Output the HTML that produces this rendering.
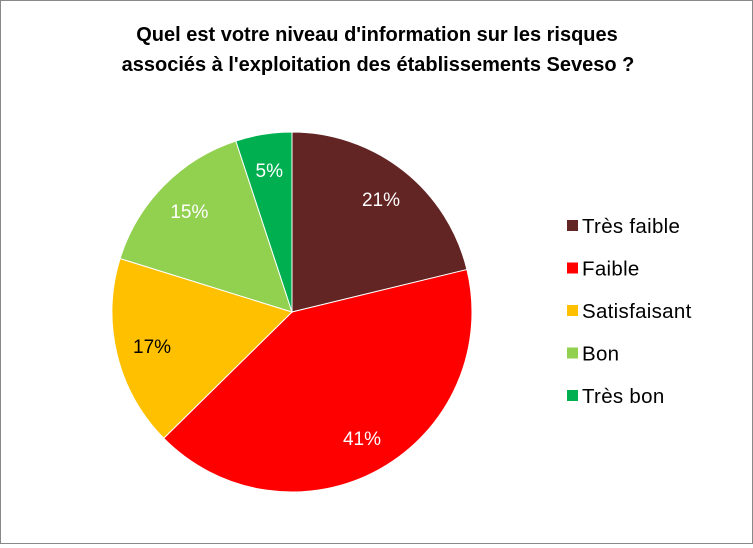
<!DOCTYPE html>
<html><head><meta charset="utf-8"><style>
body{margin:0;background:#fff}
#c{position:relative;width:751px;height:542px;border:1px solid #888;background:#fff;font-family:"Liberation Sans",Arial,sans-serif}
</style></head><body>
<div id="c">
<svg id="s" width="751" height="542">
<text x="376" y="40" text-anchor="middle" font-size="20" font-weight="bold">Quel est votre niveau d'information sur les risques</text>
<text x="377" y="70" text-anchor="middle" font-size="20" font-weight="bold">associés à l'exploitation des établissements Seveso ?</text>
<g id="slices"></g><g id="labels"></g><g id="legend"></g>
</svg></div>
<script>
const categories=["Très faible","Faible","Satisfaisant","Bon","Très bon"];
const values=[21,41,17,15,5];
const colors=["#632523","#FF0000","#FFC000","#92D050","#00B050"];
const labelColors=["#fff","#fff","#000","#fff","#fff"];
const NS="http://www.w3.org/2000/svg";
const cx=291,cy=311,r=180;
const total=values.reduce((a,b)=>a+b,0);
const sl=document.getElementById('slices'),lb=document.getElementById('labels'),lg=document.getElementById('legend');
function pt(a,rr){return [cx+rr*Math.sin(a),cy-rr*Math.cos(a)];}
let a0=0;
values.forEach((v,i)=>{
 const a1=a0+v/total*2*Math.PI;
 const p0=pt(a0,r),p1=pt(a1,r);
 const p=document.createElementNS(NS,'path');
 p.setAttribute('d',`M${cx},${cy}L${p0[0]},${p0[1]}A${r},${r} 0 ${a1-a0>Math.PI?1:0} 1 ${p1[0]},${p1[1]}Z`);
 p.setAttribute('fill',colors[i]);p.setAttribute('stroke','#fff');p.setAttribute('stroke-width','1');
 
 
 sl.appendChild(p);
 const m=(a0+a1)/2,lp=pt(m,r*0.8);
 const t=document.createElementNS(NS,'text');
 t.setAttribute('x',lp[0]);t.setAttribute('y',lp[1]+7);t.setAttribute('text-anchor','middle');
 t.setAttribute('font-size','19');t.setAttribute('fill',labelColors[i]);
 t.textContent=v+'%';
 
 
 lb.appendChild(t);
 const y=225+i*42.5;
 const sq=document.createElementNS(NS,'rect');
 sq.setAttribute('x',566);sq.setAttribute('y',y-6);sq.setAttribute('width',11);sq.setAttribute('height',11);sq.setAttribute('fill',colors[i]);
 
 
 lg.appendChild(sq);
 const lt=document.createElementNS(NS,'text');
 lt.setAttribute('x',581);lt.setAttribute('y',y+7);lt.setAttribute('font-size','20.5');lt.setAttribute('letter-spacing','0.3');
 lt.textContent=categories[i];
 
 
 lg.appendChild(lt);
 a0=a1;
});
</script>
</body></html>
